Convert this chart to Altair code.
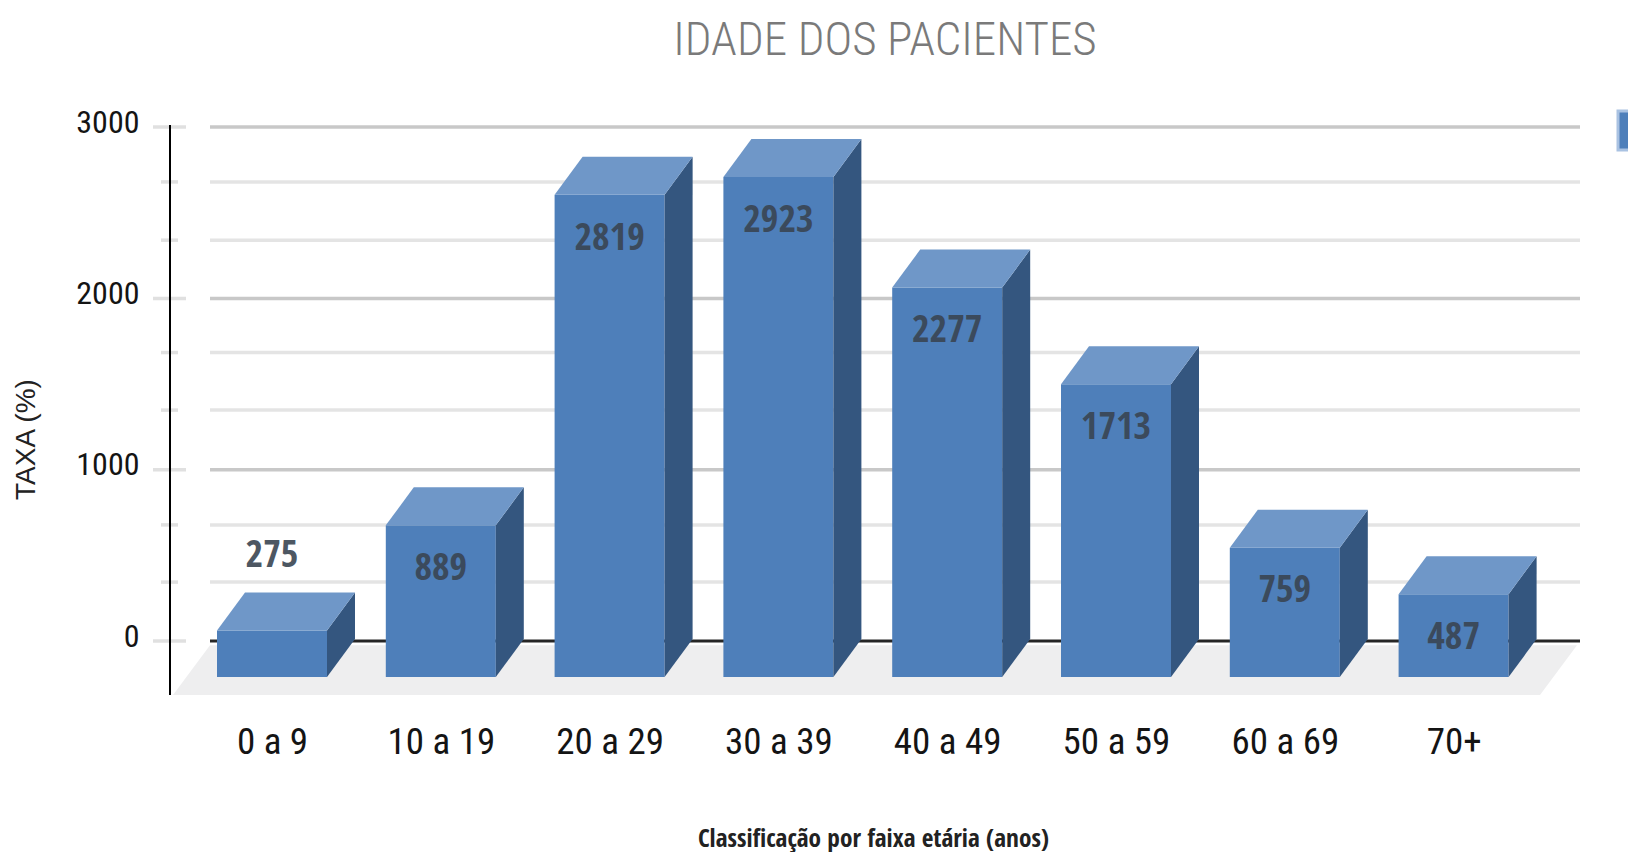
import altair as alt
import pandas as pd

categories = ["0 a 9", "10 a 19", "20 a 29", "30 a 39", "40 a 49", "50 a 59", "60 a 69", "70+"]
values = [275, 889, 2819, 2923, 2277, 1713, 759, 487]
label_above = [True, False, False, False, False, False, False, False]
major_ticks = [0, 1000, 2000, 3000]
minor_ticks = [344, 678, 1348, 1684, 2340, 2680]

FONT = "Roboto Condensed"
BOLD = "Open Sans Condensed"
PX_X = 168.8            # pixels per category slot
PX_Y = 0.1713           # pixels per value unit
half = 55 / PX_X        # half bar width
dx = 28 / PX_X          # depth, horizontal
dy = 38 / PX_Y          # depth, vertical
base = -210             # front-bottom edge of the bars
lift = 8
floor_low = -315
floor_back = -24

xs = alt.Scale(domain=[(140 - 272) / PX_X, (1628 - 272) / PX_X], nice=False, zero=False)
ys = alt.Scale(domain=[floor_low, (641 - 100) / PX_Y], nice=False, zero=False)

label_expr = "[" + ",".join(f"'{c}'" for c in categories) + "][datum.value]"
x_axis = alt.Axis(
    values=list(range(len(categories))), labelExpr=label_expr, grid=False, domain=False, ticks=False,
    labelFont=FONT, labelFontSize=37, labelColor="#141414", labelPadding=29, labelAngle=0,
    title="Classificação por faixa etária (anos)", titleFont=BOLD, titleFontSize=25.3, titleFontWeight="bold",
    titleColor="#222222", titleX=733, titleY=151, titleBaseline="alphabetic", labelOverlap=False,
)
y_axis = alt.Axis(
    values=major_ticks, grid=False, domain=False, ticks=False, format="d",
    labelFont=FONT, labelFontSize=32, labelColor="#141414", labelPadding=1, labelOffset=-5,
    title="TAXA (%)", titleFont="Liberation Sans", titleFontSize=28, titleFontWeight="normal",
    titleColor="#222222", titleX=-114, titleY=339, titleBaseline="middle",
)


def X(f="x"):
    return alt.X(f"{f}:Q", scale=xs, axis=x_axis)


def Y(f="y"):
    return alt.Y(f"{f}:Q", scale=ys, axis=y_axis)


def parallelogram(key, left, right, shift, y_front, y_back):
    return [
        dict(k=key, x=left, y=y_front, y2=y_front),
        dict(k=key, x=left + shift, y=y_back, y2=y_front),
        dict(k=key, x=right, y=y_back, y2=y_front),
        dict(k=key, x=right + shift, y=y_back, y2=y_back),
    ]


front, side, top, labels = [], [], [], []
for i, (c, v, above) in enumerate(zip(categories, values, label_above)):
    ft = v + lift - dy
    front.append(dict(x=i - half, x1=i + half, y=ft, y2=base))
    side += [
        dict(k=i, x=i + half, y=ft, y2=base),
        dict(k=i, x=i + half + dx, y=v + lift, y2=base + dy),
    ]
    top += parallelogram(i, i - half, i + half, dx, ft, v + lift)
    labels.append(dict(x=i, y=ft + 445 if above else ft - 244, t=str(v)))

floor = parallelogram(0, (173 - 272) / PX_X, (1540 - 272) / PX_X, 37 / PX_X, floor_low, floor_back)

grid_l, grid_r = (210 - 272) / PX_X, (1580 - 272) / PX_X
grid_major = pd.DataFrame({"y": major_ticks[1:], "x": grid_l, "x1": grid_r})
grid_minor = pd.DataFrame({"y": minor_ticks, "x": grid_l, "x1": grid_r})
grid_zero = pd.DataFrame({"y": [0], "x": [grid_l], "x1": [grid_r]})
tick_major = pd.DataFrame({"y": major_ticks, "x": (153 - 272) / PX_X, "x1": (186 - 272) / PX_X})
tick_minor = pd.DataFrame({"y": minor_ticks, "x": (161 - 272) / PX_X, "x1": (178 - 272) / PX_X})
axis_line = pd.DataFrame({"x": [(170 - 272) / PX_X], "y": [(641 - 125) / PX_Y], "y2": [floor_low]})
swatch = pd.DataFrame({"x": [(1618 - 272) / PX_X], "x1": [(1660 - 272) / PX_X],
                       "y": [(641 - 111) / PX_Y], "y2": [(641 - 150) / PX_Y]})


def rules(df, color, width):
    return alt.Chart(df).mark_rule(color=color, strokeWidth=width).encode(x=X(), x2="x1:Q", y=Y())


def faces(rows, color):
    return alt.Chart(pd.DataFrame(rows)).mark_area(color=color, opacity=1).encode(
        x=X(), y=Y(), y2="y2:Q", detail="k:N")


layers = [
    rules(tick_major, "#e0e0e0", 3.5),
    rules(tick_minor, "#e0e0e0", 3.5),
    rules(grid_major, "#c8c8c8", 3.5),
    rules(grid_minor, "#e4e4e4", 3.5),
    faces(floor, "#eeeeef"),
    rules(grid_zero, "#262626", 3),
    alt.Chart(axis_line).mark_rule(color="#000000", strokeWidth=2).encode(x=X(), y=Y(), y2="y2:Q"),
    alt.Chart(pd.DataFrame(front)).mark_rect(color="#4e7fba").encode(x=X(), x2="x1:Q", y=Y(), y2="y2:Q"),
    faces(side, "#34567f"),
    faces(top, "#6f97c8"),
    alt.Chart(pd.DataFrame(labels)).mark_text(
        font=BOLD, fontSize=38, color="#3a4552", baseline="middle", align="center", opacity=0.9, dy=2
    ).encode(x=X(), y=Y(), text="t:N"),
    alt.Chart(swatch).mark_rect(color="#4e7fba", stroke="#a9c2e2", strokeWidth=3).encode(
        x=X(), x2="x1:Q", y=Y(), y2="y2:Q"),
]

chart = alt.layer(*layers).properties(
    width=1488, height=595,
    padding={"left": 132, "top": 92, "right": 0, "bottom": 157},
    autosize=alt.AutoSizeParams(type="none"),
    background="white",
    title=alt.TitleParams(
        "IDADE DOS PACIENTES", font=FONT, fontSize=47, fontWeight=300, color="#7a7a7a",
        anchor="middle", dx=1, offset=35,
    ),
).configure_view(stroke=None)

chart.save("out.html", embed_options={"renderer": "svg", "actions": False})
